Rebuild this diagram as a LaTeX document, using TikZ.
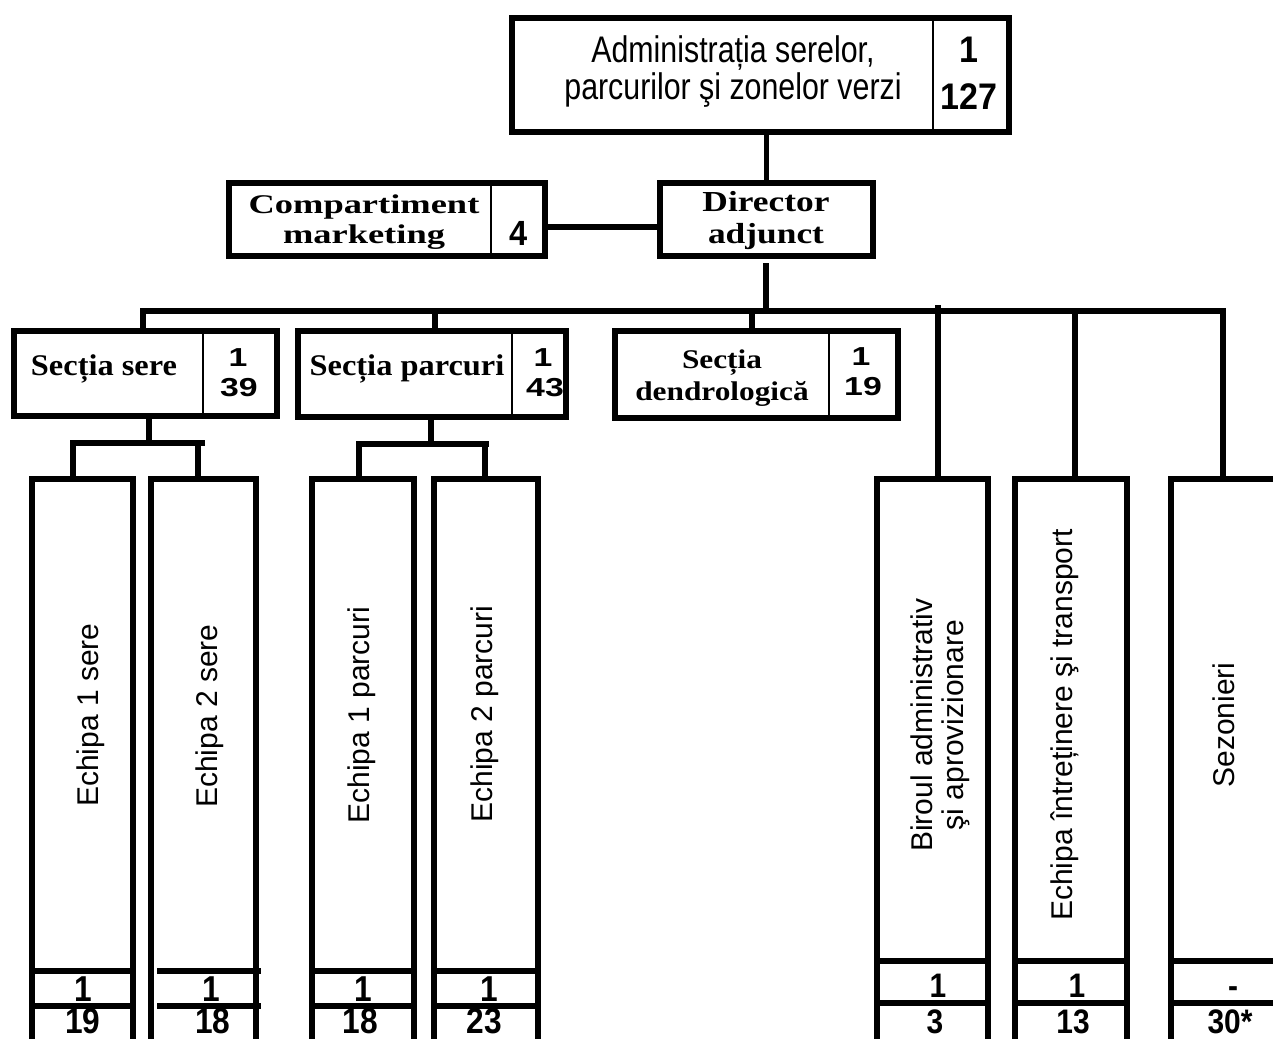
\documentclass[tikz,border=0pt]{standalone}
\usepackage{fontspec}
\setmainfont{Liberation Sans}
\newfontfamily\serifF{Liberation Serif}
\usepackage{graphicx}
\newcommand\hs[2]{\scalebox{#1}[1]{#2}}
\newcommand\fsz[2]{\fontsize{#1pt}{#2pt}\selectfont}
\newcommand\mkbox[5]{%
  \pgfmathsetmacro\bw{(#4-#2)*0.75}%
  \pgfmathsetmacro\bh{(#5-#3)*0.75}%
  \node[boxst,minimum width=\bw pt,minimum height=\bh pt] (#1) at ({(#2+#4)/2},{(#3+#5)/2}) {};}
\begin{document}
\begin{tikzpicture}[x=0.75pt,y=-0.75pt,
  boxst/.style={draw,line width=3.8pt,inner sep=0pt,outer sep=0pt},
  conn/.style={line width=3.9pt},
  dv/.style={line width=0.8pt},
  cell/.style={line width=3.8pt},
  tx/.style={inner sep=0pt,anchor=base},
  topf/.style={font=\fsz{27.75}{30}},
  topn/.style={font=\bfseries\fsz{27.75}{30}},
  serf/.style={font=\serifF\bfseries\fsz{#1}{#1}},
  secn/.style={font=\bfseries\fsz{19.5}{21}},
  botl/.style={font=\bfseries\fsz{27}{28}},
  botr/.style={font=\bfseries\fsz{25.5}{27}},
  vt/.style={inner sep=0pt,rotate=90,anchor=center,font=\fsz{22.5}{23.5}},
]
\useasboundingbox (0,0) rectangle (1273,1038);
\clip (0,0) rectangle (1273,1038);

% boxes
\mkbox{top}{512}{18}{1009}{132}
\mkbox{comp}{229}{183}{545}{256}
\mkbox{dir}{660}{183}{873}{256}
\mkbox{sere}{14}{331}{277}{416}
\mkbox{parc}{298}{331}{566}{417}
\mkbox{dend}{615}{331}{898}{418}
\mkbox{esa}{32}{479}{133}{1060}
\mkbox{esb}{151}{479}{256}{1060}
\mkbox{epa}{312}{479}{414}{1060}
\mkbox{epb}{434}{479}{538}{1060}
\mkbox{bir}{877}{479}{988}{1060}
\mkbox{eit}{1015}{479}{1127}{1060}
\mkbox{sez}{1171}{479}{1277}{1060}

% dividers
\coordinate (dvT) at (933,0);
\coordinate (dvC) at (491,0);
\coordinate (dvS) at (203,0);
\coordinate (dvP) at (512,0);
\coordinate (dvD) at (829,0);
\draw[dv] (top.north -| dvT) -- (top.south -| dvT);
\draw[dv] (comp.north -| dvC) -- (comp.south -| dvC);
\draw[dv] (sere.north -| dvS) -- (sere.south -| dvS);
\draw[dv] (parc.north -| dvP) -- (parc.south -| dvP);
\draw[dv] (dend.north -| dvD) -- (dend.south -| dvD);

% connectors
\coordinate (cd) at (600,227);
\draw[conn] (comp.east |- cd) -- (dir.west |- cd);
\draw[conn] (dir.north |- top.south) -- (dir.north);
\coordinate (dj) at (766,263);
\coordinate (busL) at (143,311);
\coordinate (busR) at (1223,311);
\draw[conn] (dj) -- (dj |- busL);
\draw[conn] (busL |- sere.north) -- (busL) -- (busR) -- (busR |- sez.north);
\coordinate (bP) at (435,311);
\coordinate (bD) at (752,311);
\coordinate (bB) at (938,305);
\coordinate (bE) at (1075,311);
\draw[conn] (bP) -- (bP |- parc.north);
\draw[conn] (bD) -- (bD |- dend.north);
\draw[conn] (bB) -- (bB |- bir.north);
\draw[conn] (bE) -- (bE |- eit.north);

% sub connectors sere
\coordinate (sJ) at (149,443);
\coordinate (sL) at (73,443);
\coordinate (sR) at (205,443);
\coordinate (sR2) at (198,443);
\draw[conn] (sere.south -| sJ) -- (sJ);
\draw[conn] (sL |- esa.north) -- (sL) -- (sR);
\draw[conn] (sR2) -- (sR2 |- esb.north);
% sub connectors parcuri
\coordinate (pJ) at (431,444);
\coordinate (pL) at (359,444);
\coordinate (pR) at (489,444);
\coordinate (pR2) at (485,444);
\draw[conn] (parc.south -| pJ) -- (pJ);
\draw[conn] (pL |- epa.north) -- (pL) -- (pR);
\draw[conn] (pR2) -- (pR2 |- epb.north);

% cell lines
\coordinate (lA) at (0,971);
\coordinate (lB) at (0,1006);
\coordinate (rA) at (0,961);
\coordinate (rB) at (0,1003);
\foreach \b in {esa,epa,epb}{
  \draw[cell] (\b.west |- lA) -- (\b.east |- lA);
  \draw[cell] (\b.west |- lB) -- (\b.east |- lB);
}
\coordinate (e2a1) at (157,971);
\coordinate (e2a2) at (261,971);
\coordinate (e2b1) at (157,1006);
\coordinate (e2b2) at (261,1006);
\draw[cell] (e2a1) -- (e2a2);
\draw[cell] (e2b1) -- (e2b2);
\foreach \b in {bir,eit,sez}{
  \draw[cell] (\b.west |- rA) -- (\b.east |- rA);
  \draw[cell] (\b.west |- rB) -- (\b.east |- rB);
}

% texts top
\node[tx,topf] (t1) at (733,63) {\hs{0.82}{Administrația serelor,}};
\node[tx,topf] (t2) at (733,100) {\hs{0.82}{parcurilor şi zonelor verzi}};
\node[tx,topn] (tn1) at (969,63) {\hs{0.92}{1}};
\node[tx,topn] (tn2) at (969,110) {\hs{0.92}{127}};

% compartiment
\node[tx,serf=20.25] (c1) at (364,213) {\hs{1.35}{Compartiment}};
\node[tx,serf=20.25] (c2) at (364,243) {\hs{1.35}{marketing}};
\node[tx,font=\bfseries\fsz{26.25}{28}] (cn) at (519,245) {\hs{0.93}{4}};

% director
\node[tx,serf=21.75] (d1) at (766,211) {\hs{1.22}{Director}};
\node[tx,serf=21.75] (d2) at (766,243) {\hs{1.22}{adjunct}};

% sectii
\node[tx,serf=22.5] (s1) at (104,375) {\hs{1.08}{Secția sere}};
\node[tx,secn] (sn1) at (238,366) {\hs{1.3}{1}};
\node[tx,secn] (sn2) at (239,396) {\hs{1.3}{39}};
\node[tx,serf=22.5] (p1) at (407,375) {\hs{1.08}{Secția parcuri}};
\node[tx,secn] (pn1) at (543,366) {\hs{1.3}{1}};
\node[tx,secn] (pn2) at (545,396) {\hs{1.3}{43}};
\node[tx,serf=20.25] (dd1) at (722,368) {\hs{1.16}{Secția}};
\node[tx,serf=20.25] (dd2) at (722,400) {\hs{1.16}{dendrologică}};
\node[tx,secn] (dn1) at (861,365) {\hs{1.3}{1}};
\node[tx,secn] (dn2) at (863,395) {\hs{1.3}{19}};

% vertical texts
\node[vt] (vesa) at (91,715) {Echipa 1 sere};
\node[vt] (vesb) at (210,716) {Echipa 2 sere};
\node[vt] (vepa) at (362,715) {Echipa 1 parcuri};
\node[vt] (vepb) at (485,714) {Echipa 2 parcuri};
\node[vt,align=center] (vbir) at (940,725) {Biroul administrativ\\şi aprovizionare};
\node[vt] (veit) at (1065,725) {Echipa întreținere şi transport};
\node[vt] (vsez) at (1224,725) {Sezonieri};

% bottom numbers
\node[tx,botl] (na1) at (83,1001) {\hs{0.88}{1}};
\node[tx,botl] (na2) at (83,1033) {\hs{0.88}{19}};
\node[tx,botl] (nb1) at (211,1001) {\hs{0.88}{1}};
\node[tx,botl] (nb2) at (213,1033) {\hs{0.88}{18}};
\node[tx,botl] (nc1) at (363,1001) {\hs{0.88}{1}};
\node[tx,botl] (nc2) at (360,1033) {\hs{0.88}{18}};
\node[tx,botl] (nd1) at (489,1001) {\hs{0.88}{1}};
\node[tx,botl] (nd2) at (484,1033) {\hs{0.88}{23}};
\node[tx,botr] (ne1) at (938,997) {\hs{0.88}{1}};
\node[tx,botr] (ne2) at (935,1033) {\hs{0.88}{3}};
\node[tx,botr] (nf1) at (1077,997) {\hs{0.88}{1}};
\node[tx,botr] (nf2) at (1073,1033) {\hs{0.88}{13}};
\node[tx,botr] (ng1) at (1233,997) {\hs{0.88}{-}};
\node[tx,botr] (ng2) at (1230,1033) {\hs{0.88}{30*}};
\end{tikzpicture}
\end{document}
